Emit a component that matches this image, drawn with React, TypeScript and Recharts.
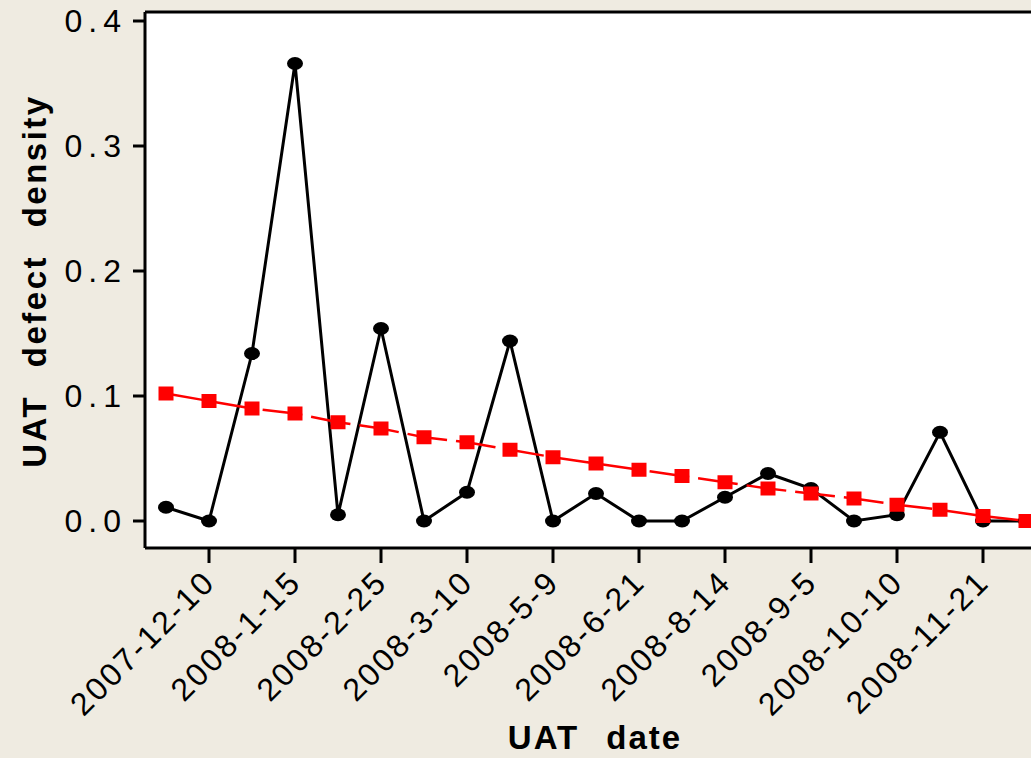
import React from 'react';
import {
  LineChart,
  Line,
  XAxis,
  YAxis,
  CartesianGrid,
  ReferenceLine,
  Label,
} from 'recharts';

// only every other UAT date is labelled on the axis
const dateLabels = [
  '', '2007-12-10', '', '2008-1-15', '', '2008-2-25', '', '2008-3-10', '', '2008-5-9', '',
  '2008-6-21', '', '2008-8-14', '', '2008-9-5', '', '2008-10-10', '', '2008-11-21', '',
];
const defectDensity = [
  0.011, 0.0, 0.134, 0.366, 0.005, 0.154, 0.0, 0.023, 0.144, 0.0, 0.022,
  0.0, 0.0, 0.019, 0.038, 0.026, 0.0, 0.005, 0.071, 0.0, 0.0,
];
const trend = [
  0.102, 0.096, 0.09, 0.086, 0.079, 0.074, 0.067, 0.063, 0.057, 0.051, 0.046,
  0.041, 0.036, 0.031, 0.026, 0.022, 0.018, 0.013, 0.009, 0.004, 0.0,
];
const yTicks = [0, 0.1, 0.2, 0.3, 0.4];

const data = dateLabels.map((d, i) => ({
  i,
  date: d,
  density: defectDensity[i],
  trend: trend[i],
}));

const FONT = '"Liberation Sans", Arial, sans-serif';
const Y_MIN = -0.0216;
const Y_MAX = 0.4072;

const DateTick = (props: any) => {
  const { x, y, payload } = props;
  const label = dateLabels[payload.value];
  if (!label) return null;
  return (
    <g>
      <line x1={x} y1={y} x2={x} y2={y + 15} stroke="#000" strokeWidth={3} />
      <text
        x={x + 8}
        y={y + 36}
        textAnchor="end"
        fontSize={32}
        fontFamily={FONT}
        fill="#000"
        letterSpacing={2.5}
        transform={`rotate(-45, ${x + 8}, ${y + 36})`}
      >
        {label}
      </text>
    </g>
  );
};

const BlackDot = (props: any) => {
  const { cx, cy } = props;
  return <ellipse cx={cx} cy={cy} rx={8} ry={6.5} fill="#000" />;
};

const RedSquare = (props: any) => {
  const { cx, cy } = props;
  return <rect x={cx - 7.5} y={cy - 7} width={15} height={14} fill="#ff0000" />;
};

export default function App() {
  return (
    <div
      style={{
        position: 'fixed',
        left: 0,
        top: 0,
        width: 1031,
        height: 758,
        overflow: 'hidden',
        background: '#efebe1',
      }}
    >
      <LineChart
        width={1047}
        height={758}
        data={data}
        margin={{ top: 12, right: 0, left: 0, bottom: 40 }}
      >
        <CartesianGrid fill="#fff" horizontal={false} vertical={false} stroke="none" />
        <XAxis
          dataKey="i"
          height={170}
          padding={{ left: 21, right: 21 }}
          axisLine={{ stroke: '#000', strokeWidth: 3 }}
          tickLine={false}
          tickSize={0}
          tickMargin={0}
          interval={0}
          tick={<DateTick />}
        >
          <Label
            content={() => (
              <text
                x={595}
                y={749}
                textAnchor="middle"
                fontSize={33}
                fontWeight="bold"
                fontFamily={FONT}
                fill="#000"
                wordSpacing={16}
                letterSpacing={2}
              >
                UAT date
              </text>
            )}
          />
        </XAxis>
        <YAxis
          width={145}
          domain={[Y_MIN, Y_MAX]}
          allowDataOverflow
          ticks={yTicks}
          tickFormatter={(v: number) => v.toFixed(1)}
          axisLine={{ stroke: '#000', strokeWidth: 3 }}
          tickLine={{ stroke: '#000', strokeWidth: 3 }}
          tickSize={12}
          tickMargin={6}
          tick={{ fontSize: 32, fontFamily: FONT, fill: '#000', letterSpacing: 6 }}
        >
          <Label
            content={() => (
              <text
                x={46}
                y={281}
                textAnchor="middle"
                fontSize={33}
                fontWeight="bold"
                fontFamily={FONT}
                fill="#000"
                wordSpacing={16}
                letterSpacing={2.5}
                transform="rotate(-90, 46, 281)"
              >
                UAT defect density
              </text>
            )}
          />
        </YAxis>
        <ReferenceLine y={Y_MAX} stroke="#000" strokeWidth={3} ifOverflow="visible" />
        <Line
          dataKey="density"
          stroke="#000"
          strokeWidth={3}
          dot={<BlackDot />}
          activeDot={false}
          isAnimationActive={false}
        />
        <Line
          dataKey="trend"
          stroke="#ff0000"
          strokeWidth={2.5}
          strokeDasharray="40 9"
          dot={<RedSquare />}
          activeDot={false}
          isAnimationActive={false}
        />
      </LineChart>
    </div>
  );
}
